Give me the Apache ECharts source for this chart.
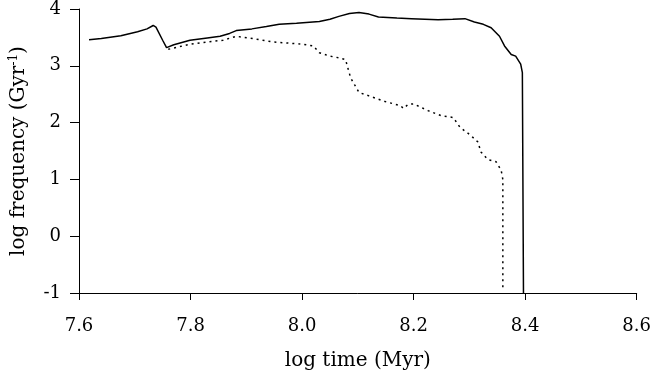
<html><head><meta charset='utf-8'>
<script src='https://cdn.jsdelivr.net/npm/echarts@6/dist/echarts.min.js'></script>
<style>body{margin:0;background:#fff}#main{width:654px;height:381px}</style>
</head><body><div id='main'></div><script>
// solid curve
var timeSolid = [7.618,7.640,7.675,7.705,7.722,7.733,7.738,7.750,7.757,7.770,7.799,7.830,7.853,7.870,7.882,7.910,7.936,7.959,7.990,8.031,8.050,8.066,8.085,8.102,8.120,8.137,8.170,8.196,8.244,8.270,8.292,8.309,8.325,8.339,8.354,8.363,8.375,8.383,8.392,8.395,8.397];
var freqSolid = [3.46,3.48,3.53,3.60,3.65,3.71,3.68,3.45,3.32,3.37,3.45,3.49,3.52,3.57,3.62,3.65,3.69,3.73,3.75,3.78,3.82,3.87,3.92,3.94,3.91,3.86,3.84,3.83,3.81,3.82,3.83,3.77,3.73,3.67,3.52,3.35,3.20,3.17,3.03,2.88,-1];
// dotted curve
var timeDotted = [7.760,7.799,7.830,7.858,7.882,7.911,7.948,7.975,8.001,8.020,8.031,8.050,8.066,8.078,8.081,8.087,8.102,8.120,8.149,8.176,8.182,8.190,8.200,8.226,8.250,8.271,8.283,8.303,8.315,8.321,8.333,8.348,8.357,8.360,8.360];
var freqDotted = [3.29,3.38,3.42,3.45,3.52,3.48,3.42,3.40,3.38,3.35,3.23,3.17,3.14,3.11,3.00,2.79,2.53,2.47,2.37,2.30,2.25,2.32,2.33,2.21,2.12,2.09,1.92,1.77,1.66,1.48,1.35,1.31,1.16,1.00,-0.92];

function pairs(xs, ys) {
  var out = [];
  for (var i = 0; i < xs.length; i++) out.push([xs[i], ys[i]]);
  return out;
}

var font = 'DejaVu Serif';
var chart = echarts.init(document.getElementById('main'));
chart.setOption({
  animation: false,
  grid: {left: 78, right: 14, top: 6, bottom: 88},
  xAxis: {
    type: 'value', min: 7.6, max: 8.6, interval: 0.2,
    name: 'log time (Myr)', nameLocation: 'middle', nameGap: 58,
    nameTextStyle: {fontFamily: font, fontSize: 20, color: '#000'},
    splitLine: {show: false},
    axisLine: {onZero: false, lineStyle: {color: '#000', width: 1}},
    axisTick: {length: 7, lineStyle: {color: '#000'}},
    axisLabel: {margin: 24, fontFamily: font, fontSize: 18, color: '#000',
      formatter: function (v) { return v.toFixed(1); }}
  },
  yAxis: {
    type: 'value', min: -1, max: 4, interval: 1,
    name: '{n|log frequency (Gyr}{s|-1}{n|)}', nameLocation: 'middle', nameGap: 50, nameRotate: 90,
    nameTextStyle: {rich: {
      n: {fontFamily: font, fontSize: 20, color: '#000'},
      s: {fontFamily: font, fontSize: 12, color: '#000', verticalAlign: 'top', padding: [0, 0, 9, 0]}
    }},
    splitLine: {show: false},
    axisLine: {show: true, onZero: false, lineStyle: {color: '#000', width: 1}},
    axisTick: {show: true, length: 9, lineStyle: {color: '#000'}},
    axisLabel: {margin: 18, fontFamily: font, fontSize: 18, color: '#000'}
  },
  series: [
    {type: 'line', data: pairs(timeSolid, freqSolid), showSymbol: false,
      lineStyle: {color: '#000', width: 1.5}},
    {type: 'line', data: pairs(timeDotted, freqDotted), showSymbol: false,
      lineStyle: {color: '#000', width: 1.5, type: [2, 4]}}
  ]
});
</script></body></html>
